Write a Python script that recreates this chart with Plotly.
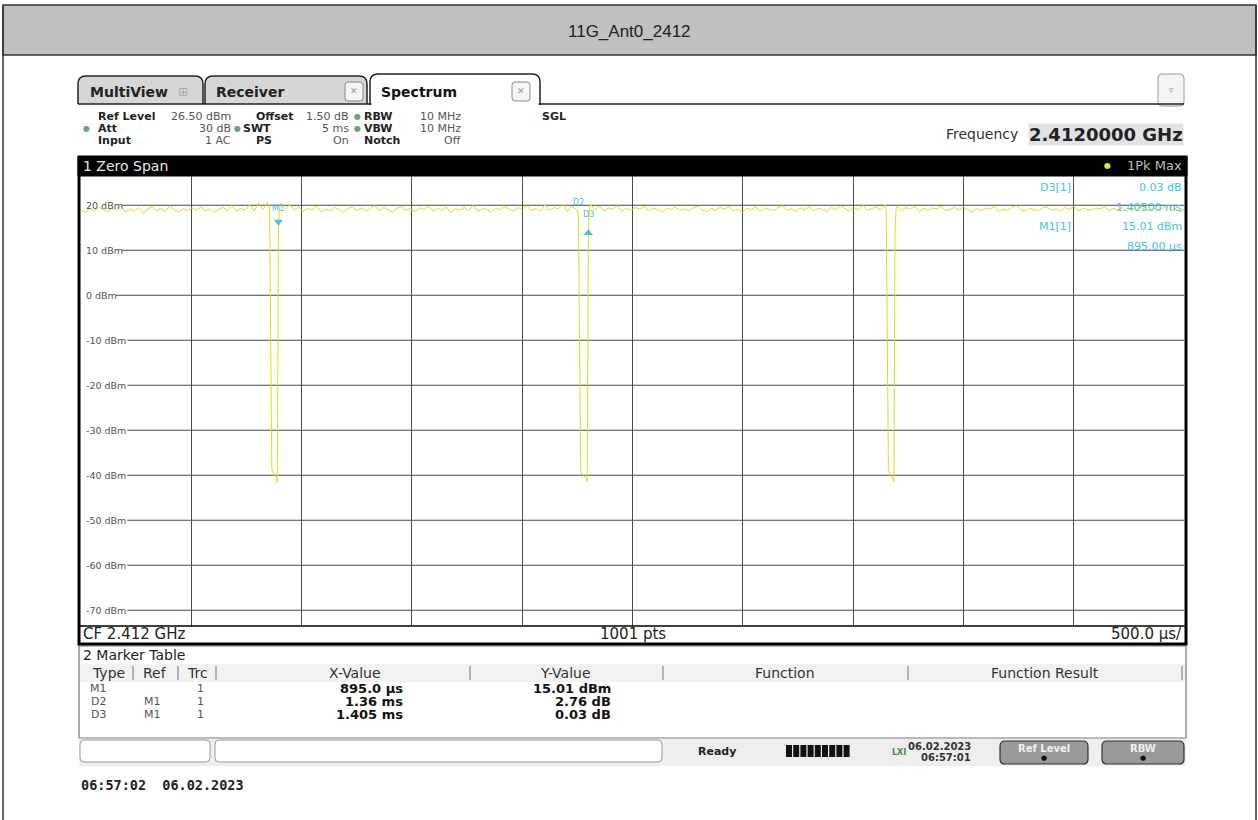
import plotly.graph_objects as go
import numpy as np

W, H = 1258, 820
SANS = "DejaVu Sans"
MONO = "DejaVu Sans Mono"
ARIAL = "Liberation Sans"

# ---------------- data ----------------
title_text = "11G_Ant0_2412"
sweep_time_ms = 5.0
ref_level_dbm = 26.5
range_db = 100.0
y_tick_vals = [20, 10, 0, -10, -20, -30, -40, -50, -60, -70]
y_tick_labels = ["20 dBm", "10 dBm", "0 dBm", "-10 dBm", "-20 dBm", "-30 dBm",
                 "-40 dBm", "-50 dBm", "-60 dBm", "-70 dBm"]
x_div_ms = 0.5

# trace level (dBm), flat burst segments (sampled along the sweep) and gaps
segA_span = (0.000, 0.845)
segA = [18.9, 18.4, 19.3, 18.7, 19.6, 19.0, 18.5, 19.4, 18.9, 19.8, 18.6, 19.2, 18.7, 19.5,
        18.3, 19.1, 19.7, 18.8, 19.3, 18.6, 19.9, 19.0, 18.5, 19.2, 18.8, 19.4, 18.9, 19.6,
        18.7, 19.2, 18.4, 19.1, 19.5, 18.8, 20.0, 18.6, 19.3, 18.9, 20.2, 18.7, 20.5, 19.0, 20.6]
dip1_t = [0.855, 0.860, 0.865, 0.870, 0.875, 0.880, 0.885, 0.890, 0.895, 0.900]
dip1_v = [19.2, -6.0, -38.6, -39.4, -39.8, -40.1, -40.5, -41.6, 15.01, 19.5]
segB_span = (0.905, 2.245)
segB = [20.4, 19.2, 20.1, 18.9, 19.7, 18.6, 19.3, 19.0, 19.8, 18.5, 19.2, 18.8, 19.5, 19.1,
        18.4, 19.3, 19.6, 18.9, 19.4, 18.7, 19.2, 19.9, 18.8, 19.5, 19.0, 18.5, 19.3, 19.7,
        18.9, 19.2, 18.6, 19.4, 19.1, 19.8, 18.7, 19.3, 18.9, 19.6, 18.4, 19.2, 19.0, 19.5,
        18.8, 20.0, 18.6, 19.3, 19.1, 18.5, 19.4, 18.9, 19.7, 19.2, 18.7, 19.5, 19.0, 19.9,
        18.8, 19.3, 18.6, 20.1, 18.9, 19.5, 19.2, 20.3, 18.7, 19.8, 19.1]
dip2_t = [2.250, 2.255, 2.260, 2.265, 2.270, 2.280, 2.290, 2.295, 2.300, 2.305]
dip2_v = [18.9, 17.77, -10.0, -38.9, -39.6, -40.2, -40.7, -41.4, 15.04, 19.4]
segC_span = (2.310, 3.645)
segC = [20.2, 19.0, 19.8, 18.7, 19.4, 19.1, 19.9, 18.6, 19.3, 18.9, 19.5, 19.2, 19.7, 18.8,
        19.4, 19.0, 18.5, 19.3, 19.1, 19.6, 18.9, 19.2, 18.7, 19.4, 19.8, 19.0, 18.6, 19.3,
        18.9, 19.5, 19.1, 19.7, 18.8, 19.2, 18.4, 19.3, 19.0, 19.6, 18.7, 19.4, 19.1, 18.8,
        19.5, 19.9, 18.9, 19.2, 18.6, 19.4, 19.0, 19.7, 18.8, 19.3, 19.1, 18.6, 19.5, 18.9,
        19.8, 19.2, 18.7, 19.4, 19.0, 20.0, 18.8, 19.3, 19.6, 18.9, 20.1]
dip3_t = [3.650, 3.655, 3.660, 3.665, 3.670, 3.675, 3.680, 3.685, 3.690, 3.695]
dip3_v = [19.0, -7.0, -38.7, -39.5, -39.9, -40.3, -40.8, -41.5, 14.2, 19.2]
segD_span = (3.700, 5.000)
segD = [19.9, 18.8, 19.5, 19.1, 19.7, 18.6, 19.3, 18.9, 19.4, 19.2, 19.8, 18.7, 19.1, 19.5,
        18.9, 19.6, 19.0, 18.5, 19.3, 18.8, 19.4, 19.1, 19.7, 18.6, 19.2, 18.9, 19.5, 19.9,
        19.0, 18.7, 19.3, 19.1, 18.8, 19.4, 19.6, 18.9, 19.2, 18.6, 19.5, 19.0, 19.8, 18.7,
        19.3, 19.1, 18.9, 19.4, 19.2, 19.7, 18.8, 19.3, 19.0, 19.5, 18.6, 19.2, 18.9, 19.6,
        19.1, 18.7, 19.4, 19.0, 19.3, 19.8, 18.9, 19.2, 18.6, 19.1]

# markers
marker_type = ["M1", "D2", "D3"]
marker_ref = ["", "M1", "M1"]
marker_trc = ["1", "1", "1"]
marker_x_text = ["895.0 µs", "1.36 ms", "1.405 ms"]
marker_y_text = ["15.01 dBm", "2.76 dB", "0.03 dB"]
marker_abs_t = [0.895, 2.255, 2.300]
marker_abs_v = [15.01, 17.77, 15.04]

info_rows = [
    [("Ref Level", "26.50 dBm"), ("Offset", "1.50 dB"), ("RBW", "10 MHz"), ("SGL", "")],
    [("Att", "30 dB"), ("SWT", "5 ms"), ("VBW", "10 MHz")],
    [("Input", "1 AC"), ("PS", "On"), ("Notch", "Off")],
]
frequency_text = "2.4120000 GHz"
cf_text = "CF 2.412 GHz"
pts_text = "1001 pts"
div_text = "500.0 µs/"
status_date = "06.02.2023"
status_time = "06:57:01"
footer_stamp = "06:57:02  06.02.2023"

# ---------------- helpers ----------------
def X(px):
    return px / W

def Y(py):
    return 1 - py / H

shapes = []
annots = []

def rect(x0, y0, x1, y1, fill=None, line=None, lw=1, layer="below"):
    shapes.append(dict(type="rect", xref="paper", yref="paper",
                       x0=X(x0), x1=X(x1), y0=Y(y1), y1=Y(y0),
                       fillcolor=fill if fill else "rgba(0,0,0,0)",
                       line=dict(color=line if line else "rgba(0,0,0,0)", width=lw if line else 0),
                       layer=layer))

def hline(x0, x1, y, color="#333", lw=1, layer="above"):
    shapes.append(dict(type="line", xref="paper", yref="paper", x0=X(x0), x1=X(x1),
                       y0=Y(y), y1=Y(y), line=dict(color=color, width=lw), layer=layer))

def vline(x, y0, y1, color="#333", lw=1, layer="above"):
    shapes.append(dict(type="line", xref="paper", yref="paper", x0=X(x), x1=X(x),
                       y0=Y(y0), y1=Y(y1), line=dict(color=color, width=lw), layer=layer))

def rpath(x0, y0, x1, y1, r, fill, line, lw=1, top_only=False, layer="below"):
    if top_only:
        p = (f"M {X(x0)},{Y(y1)} L {X(x0)},{Y(y0+r)} Q {X(x0)},{Y(y0)} {X(x0+r)},{Y(y0)} "
             f"L {X(x1-r)},{Y(y0)} Q {X(x1)},{Y(y0)} {X(x1)},{Y(y0+r)} L {X(x1)},{Y(y1)}")
    else:
        p = (f"M {X(x0)},{Y(y1-r)} L {X(x0)},{Y(y0+r)} Q {X(x0)},{Y(y0)} {X(x0+r)},{Y(y0)} "
             f"L {X(x1-r)},{Y(y0)} Q {X(x1)},{Y(y0)} {X(x1)},{Y(y0+r)} L {X(x1)},{Y(y1-r)} "
             f"Q {X(x1)},{Y(y1)} {X(x1-r)},{Y(y1)} L {X(x0+r)},{Y(y1)} "
             f"Q {X(x0)},{Y(y1)} {X(x0)},{Y(y1-r)} Z")
    shapes.append(dict(type="path", xref="paper", yref="paper", path=p,
                       fillcolor=fill, line=dict(color=line, width=lw), layer=layer))

def txt(x, y, s, size=11, color="#333", anchor="left", family=SANS, bold=False, bg=None):
    annots.append(dict(x=X(x), y=Y(y), xref="paper", yref="paper",
                       text=f"<b>{s}</b>" if bold else s, showarrow=False,
                       xanchor=anchor, yanchor="middle", borderpad=0,
                       font=dict(size=size, color=color, family=family),
                       bgcolor=bg if bg else "rgba(0,0,0,0)"))

# ---------------- document frame ----------------
rect(3, 5, 1256, 55, fill="#c0c0c0", line="#333", lw=1.5)
vline(3, 5, 820, color="#333", lw=1.5)
vline(1256, 5, 820, color="#333", lw=1.5)
txt(629, 31, title_text, size=17, color="#222", anchor="center", family=ARIAL)

# ---------------- tabs ----------------
hline(78, 1184, 104, color="#222", lw=1.5)
rpath(78, 76, 203, 104, 8, "#d6d6d6", "#222", 1.5, top_only=True)
rpath(205, 76, 367, 104, 8, "#d6d6d6", "#222", 1.5, top_only=True)
rpath(370, 74, 540, 105, 8, "#ffffff", "#222", 1.5, top_only=True)
hline(371.5, 538.5, 104.5, color="#ffffff", lw=3)
txt(89, 92, "MultiView", size=14, color="#222", bold=True)
txt(183, 92, "⊞", size=12, color="#aaa", anchor="center")
txt(215, 92, "Receiver", size=14, color="#222", bold=True)
txt(380, 92, "Spectrum", size=14, color="#111", bold=True)
for cx in (354, 521):
    rpath(cx - 9, 82, cx + 9, 101, 3, "#f6f6f6", "#888", 1)
    txt(cx, 91.5, "✕", size=9, color="#999", anchor="center")
rpath(1158, 74, 1184, 106, 4, "#f4f4f4", "#999", 1)
txt(1171, 90, "▿", size=9, color="#888", anchor="center")

# ---------------- info block ----------------
row_y = [116, 128, 140]
col_label_x = [97, 255, 363, 541]
col_value_right = [232, 350, 462]
dots = {(1, 0): 86, (1, 1): 237, (0, 2): 357, (1, 2): 357}
for r, items in enumerate(info_rows):
    for c, (lab, val) in enumerate(items):
        lx = col_label_x[c] if not (r == 1 and c == 1) else 242
        txt(lx, row_y[r], lab, size=11, color="#222", bold=True)
        if val:
            txt(col_value_right[c], row_y[r], val, size=11, color="#555", anchor="right")
for (r, c), dx in dots.items():
    txt(dx, row_y[r], "●", size=8, color="#6aa86a", anchor="center")
txt(1019, 134, "Frequency", size=14, color="#333", anchor="right")
txt(1184, 134, frequency_text, size=18, color="#222", anchor="right", bold=True, bg="#e2e2e2")

# ---------------- diagram frame ----------------
rect(78, 157, 1187, 176, fill="#000000", line="#000", lw=1)
txt(82, 166, "1 Zero Span", size=14, color="#e8e8e8")
txt(1107, 166, "●", size=8, color="#e0e040", anchor="center")
txt(1183, 166, "1Pk Max", size=13, color="#bbbbbb", anchor="right")
rect(79, 157, 1186, 644, line="#000", lw=3, layer="above")
hline(79, 1186, 626, color="#000", lw=1.5)
txt(82, 634, cf_text, size=15, color="#222")
txt(633, 634, pts_text, size=15, color="#222", anchor="center")
txt(1183, 634, div_text, size=15, color="#222", anchor="right")

# horizontal grid lines (start after the inline level labels)
for v, lab in zip(y_tick_vals, y_tick_labels):
    x0_dom = (84 + 5.9 * len(lab) + 2 - 81) / (1184 - 81)
    shapes.append(dict(type="line", xref="x domain", yref="y", x0=x0_dom, x1=1,
                       y0=v, y1=v, line=dict(color="#4a4a4a", width=1), layer="below"))
    annots.append(dict(x=(84 - 81) / (1184 - 81), y=v, xref="x domain", yref="y", text=lab,
                       showarrow=False, xanchor="left", yanchor="middle",
                       font=dict(size=9.5, color="#555", family=SANS)))

# ---------------- trace ----------------
def seg(span, vals):
    return list(np.linspace(span[0], span[1], len(vals))), list(vals)

tA, vA = seg(segA_span, segA)
tB, vB = seg(segB_span, segB)
tC, vC = seg(segC_span, segC)
tD, vD = seg(segD_span, segD)
trace_t = tA + dip1_t + tB + dip2_t + tC + dip3_t + tD
trace_v = vA + dip1_v + vB + dip2_v + vC + dip3_v + vD
order = np.argsort(trace_t, kind="stable")
trace_t = list(np.array(trace_t)[order])
trace_v = list(np.array(trace_v)[order])

fig = go.Figure()
fig.add_trace(go.Scatter(x=trace_t, y=trace_v, mode="lines",
                         line=dict(color="#dede1a", width=1), hoverinfo="skip"))

CYAN = "#3cc6e6"
# marker symbols
fig.add_trace(go.Scatter(x=[marker_abs_t[0]], y=[marker_abs_v[0] + 1.3], mode="markers",
                         marker=dict(symbol="triangle-down", size=8, color=CYAN)))
fig.add_trace(go.Scatter(x=[marker_abs_t[2]], y=[marker_abs_v[2] - 1.2], mode="markers",
                         marker=dict(symbol="triangle-up", size=8, color=CYAN)))
for name, t, v, dy in [("M1", marker_abs_t[0], marker_abs_v[0], 4.3),
                       ("D2", marker_abs_t[1], marker_abs_v[1], 2.8),
                       ("D3", marker_abs_t[2], marker_abs_v[2], 2.8)]:
    annots.append(dict(x=t, y=v + dy, xref="x", yref="y", text=name, showarrow=False,
                       xanchor="center", yanchor="middle",
                       font=dict(size=8, color=CYAN, family=SANS)))

# marker readout (upper right)
read_rows = [(188, "D3[1]", marker_y_text[2]), (207, "", "1.40500 ms"),
             (226, "M1[1]", marker_y_text[0]), (246, "", "895.00 µs")]
for y, lab, val in read_rows:
    if lab:
        txt(1072, y, lab, size=11, color=CYAN, anchor="right")
    txt(1183, y, val, size=11, color=CYAN, anchor="right")

# ---------------- marker table ----------------
rect(79, 646, 1186, 738, fill="#ffffff", line="#777", lw=1.2)
rect(80, 664, 1185, 682, fill="#f2f2f2")
txt(82, 655, "2 Marker Table", size=14, color="#222")
hdr = [(108, "Type"), (155, "Ref"), (197, "Trc"), (355, "X-Value"), (565, "Y-Value"),
       (785, "Function"), (1045, "Function Result")]
for x, s in hdr:
    txt(x, 673, s, size=14, color="#333", anchor="center")
for x in (133, 178, 216, 470, 663, 908, 1182):
    vline(x, 666, 680, color="#777", lw=1)
tbl_y = [688, 701, 714]
for i in range(3):
    txt(98, tbl_y[i], marker_type[i], size=11, color="#555", anchor="center")
    if marker_ref[i]:
        txt(152, tbl_y[i], marker_ref[i], size=11, color="#555", anchor="center")
    txt(200, tbl_y[i], marker_trc[i], size=11, color="#555", anchor="center")
    txt(404, tbl_y[i], marker_x_text[i], size=13, color="#111", anchor="right", bold=True)
    txt(612, tbl_y[i], marker_y_text[i], size=13, color="#111", anchor="right", bold=True)

# ---------------- status bar ----------------
rect(79, 739, 1186, 766, fill="#eeeeee")
rpath(80, 740, 210, 762, 4, "#ffffff", "#999", 1)
rpath(215, 740, 662, 762, 4, "#ffffff", "#999", 1)
txt(717, 751, "Ready", size=11, color="#222", anchor="center", bold=True)
for k in range(9):
    rect(786 + k * 7.2, 745, 786 + k * 7.2 + 6, 757, fill="#111111")
txt(899, 752, "LXI", size=8, color="#3f8f3f", anchor="center", bold=True)
txt(972, 746, status_date, size=10, color="#333", anchor="right", bold=True)
txt(972, 757, status_time, size=10, color="#333", anchor="right", bold=True)
for x0, x1, lab in [(1000, 1088, "Ref Level"), (1102, 1184, "RBW")]:
    rpath(x0, 741, x1, 764, 5, "#9a9a9a", "#333", 1.2)
    txt((x0 + x1) / 2, 748, lab, size=10, color="#f0f0f0", anchor="center", bold=True)
    txt((x0 + x1) / 2, 758, "●", size=7, color="#111", anchor="center")

txt(80, 785, footer_stamp, size=13.5, color="#222", family=MONO, bold=True)

# ---------------- layout ----------------
fig.update_layout(
    width=W, height=H, margin=dict(l=0, r=0, t=0, b=0),
    paper_bgcolor="#ffffff", plot_bgcolor="#ffffff", showlegend=False,
    xaxis=dict(domain=[X(81), X(1184)], range=[0, sweep_time_ms], dtick=x_div_ms, tick0=0,
               showgrid=True, gridcolor="#4a4a4a", gridwidth=1, zeroline=False,
               showticklabels=False, showline=False, fixedrange=True),
    yaxis=dict(domain=[Y(626), Y(176)], range=[ref_level_dbm - range_db, ref_level_dbm],
               showgrid=False, zeroline=False, showticklabels=False, showline=False,
               fixedrange=True),
    shapes=shapes, annotations=annots,
)
fig.write_html("out.html", config={"displayModeBar": False},
               post_script="document.body.style.margin='0';document.body.style.overflow='hidden';")
